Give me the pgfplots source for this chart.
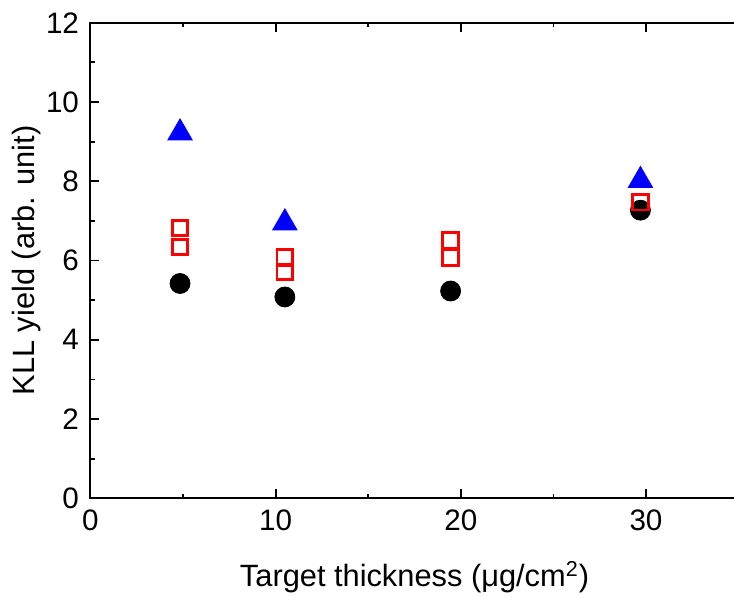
\documentclass[border=0pt]{standalone}
\usepackage{pgfplots}
\pgfplotsset{compat=1.18}
\usepackage{fontspec}
\setmainfont{Liberation Sans}

\definecolor{pblue}{RGB}{0,0,255}
\definecolor{pred}{RGB}{255,0,0}

\begin{document}
\begin{tikzpicture}
\begin{axis}[
    name=ax,
    scale only axis,
    width=324.1pt, height=237.8pt,
    xmin=0, xmax=35,
    ymin=0, ymax=12,
    xtick={0,10,20,30},
    ytick={0,2,...,12},
    minor x tick num=1,
    minor y tick num=1,
    tick align=inside,
    xtick pos=both, ytick pos=left,
    xticklabel pos=lower,
    major tick length=4.5pt,
    minor tick length=2.2pt,
    every tick/.style={black, line width=0.9pt},
    axis line style={line width=1pt},
    /pgf/number format/assume math mode=true,
    tick label style={font=\fontsize{14.8}{16}\selectfont},
    x tick label style={yshift=-2.4pt},
    y tick label style={xshift=-2.2pt},
    label style={font=\fontsize{15.4}{18}\selectfont},
    xlabel={Target thickness (μg/cm\textsuperscript{2})},
    ylabel={KLL yield (arb. unit)},
    xlabel style={at={(axis description cs:0.5,0)}, anchor=center, yshift=-39.5pt},
    ylabel style={at={(axis description cs:0,0.5)}, anchor=center, yshift=32pt},
    clip=false,
]
% circles
\addplot[only marks, mark=*, mark size=5pt, black] coordinates {
    (4.84,5.42) (10.5,5.08) (19.45,5.23) (29.7,7.27)
};
% squares
\addplot[only marks, mark=square, mark size=3.9pt, pred, line width=1.4pt] coordinates {
    (4.84,6.82) (4.84,6.34)
    (10.5,6.08) (10.5,5.71)
    (19.45,6.51) (19.45,6.08)
    (29.7,7.47)
};
% triangles
\addplot[only marks, mark=triangle*, mark size=7pt, pblue] coordinates {
    (4.84,9.22) (10.5,6.95) (29.7,8.02)
};
\end{axis}
\pgfresetboundingbox
\path ([xshift=-45.2pt,yshift=-48.85pt]ax.south west) rectangle ([xshift=-2.3pt,yshift=11.35pt]ax.north east);
\end{tikzpicture}
\end{document}
